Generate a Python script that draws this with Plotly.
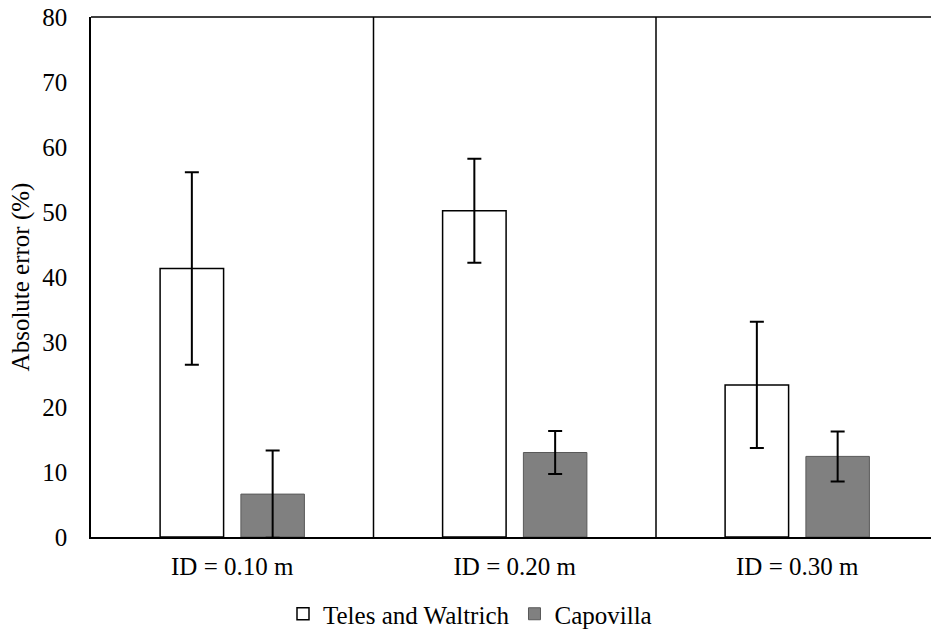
import plotly.graph_objects as go

categories = ["ID = 0.10 m", "ID = 0.20 m", "ID = 0.30 m"]
teles_values = [41.3, 50.2, 23.4]
teles_errors = [14.8, 8.0, 9.7]
capovilla_values = [6.6, 13.0, 12.4]
capovilla_errors = [6.7, 3.3, 3.85]
y_ticks = [0, 10, 20, 30, 40, 50, 60, 70, 80]

FONT = "Liberation Serif"

fig = go.Figure()
fig.add_trace(go.Bar(
    name="Teles and Waltrich", x=categories, y=teles_values,
    marker=dict(color="white", line=dict(color="black", width=1.5)),
    error_y=dict(type="data", array=teles_errors, color="black", thickness=2, width=7),
))
fig.add_trace(go.Bar(
    name="Capovilla", x=categories, y=capovilla_values,
    marker=dict(color="#808080", line=dict(color="#595959", width=1)),
    error_y=dict(type="data", array=capovilla_errors, color="black", thickness=2, width=7),
))

W, H = 931, 632
L, T, B = 91, 17, 94.5
cat_px = 282.5
x_end = -0.5 + (W - L) / cat_px

for xv in [0.5, 1.5]:
    fig.add_shape(type="line", xref="x", yref="paper", x0=xv, x1=xv, y0=0, y1=1,
                  line=dict(color="black", width=1.5))
fig.add_shape(type="line", xref="paper", yref="paper", x0=0, x1=1, y0=1, y1=1,
              line=dict(color="black", width=1.5))

fig.update_layout(
    width=W, height=H,
    margin=dict(l=L, r=0, t=T, b=B, pad=0, autoexpand=False),
    plot_bgcolor="white", paper_bgcolor="white",
    font=dict(family=FONT, size=25, color="black"),
    barmode="group", bargap=0.428, bargroupgap=0.214,
    showlegend=True,
    legend=dict(orientation="h", xref="container", yref="container",
                x=470 / W, xanchor="center", y=1 - 614 / H, yanchor="middle",
                bgcolor="rgba(0,0,0,0)",
                font=dict(size=25, family=FONT), itemwidth=30, traceorder="normal"),
    xaxis=dict(range=[-0.5, x_end], showline=True, linecolor="black", linewidth=1.5,
               ticks="", showgrid=False, ticklabelstandoff=6, zeroline=False,
               automargin=False, tickfont=dict(family=FONT, size=25)),
    yaxis=dict(range=[0, 80], tickvals=y_ticks, showline=True, linecolor="black", linewidth=1.5,
               ticks="", showgrid=False, zeroline=False, ticklabelstandoff=17, automargin=False,
               tickfont=dict(family=FONT, size=25),
               title=dict(text="Absolute error (%)", standoff=6, font=dict(size=25, family=FONT))),
)

fig.write_html("out.html", config={"displayModeBar": False},
               post_script="document.body.style.margin='0';document.body.style.overflow='hidden';")
